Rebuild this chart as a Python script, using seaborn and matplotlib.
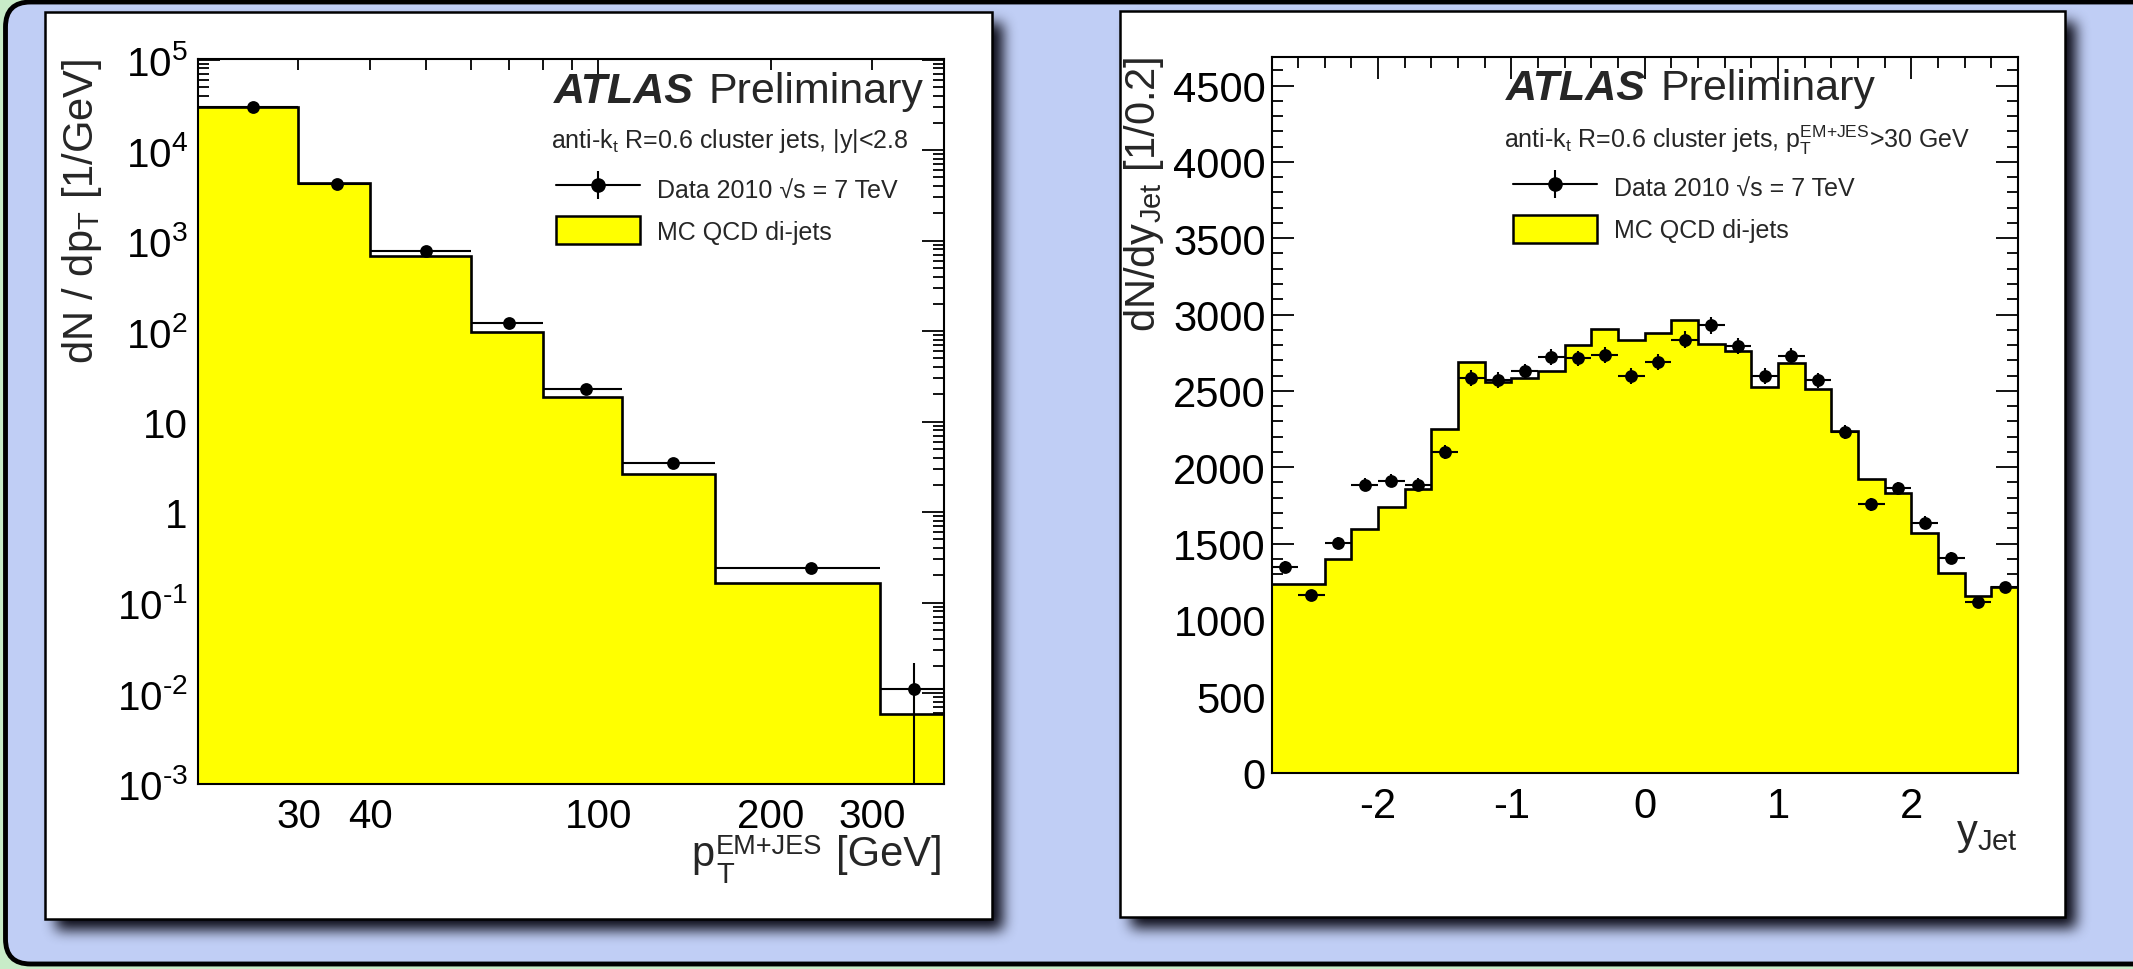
import numpy as np
import matplotlib
matplotlib.use("Agg")
import matplotlib.pyplot as plt
import matplotlib.ticker as mticker
from matplotlib.patches import Rectangle, FancyBboxPatch, Patch
from matplotlib.lines import Line2D
from matplotlib.legend_handler import HandlerTuple
import seaborn as sns

# --- left panel: jet pT spectrum ---
pt_edges = [20, 30, 40, 60, 80, 110, 160, 310, 400]
pt_mc = [3.0e4, 4.3e3, 6.7e2, 97, 18.6, 2.65, 0.166, 0.0059]
pt_data = [2.98e4, 4.24e3, 7.6e2, 123, 22.9, 3.5, 0.24, 0.0112]
pt_err = [100, 15, 4, 1.0, 0.3, 0.08, 0.02, 0.0105]
pt_ticklabels = ["$10^{\u20103}$", "$10^{\u20102}$", "$10^{\u20101}$", "1", "10",
                 "$10^{2}$", "$10^{3}$", "$10^{4}$", "$10^{5}$"]

# --- right panel: jet rapidity ---
y_edges = np.linspace(-2.8, 2.8, 29)
y_mc = [1238, 1238, 1397, 1593, 1739, 1859, 2248, 2692, 2559, 2581, 2627, 2802, 2908, 2832,
        2880, 2967, 2804, 2760, 2527, 2684, 2514, 2237, 1920, 1829, 1567, 1310, 1153, 1212]
y_data = [1347, 1161, 1506, 1886, 1912, 1886, 2101, 2583, 2570, 2627, 2719, 2712, 2734, 2597,
          2688, 2836, 2928, 2793, 2597, 2728, 2568, 2230, 1757, 1862, 1637, 1408, 1118, 1216]
y_err = [37, 34, 39, 43, 44, 43, 46, 51, 51, 51, 52, 52, 52, 51,
         52, 53, 54, 53, 51, 52, 51, 47, 42, 43, 40, 38, 33, 35]

W, H = 2133, 970
BLUE = "#c0cef5"
GREEN = "#c8ecc8"
YELLOW = "#ffff00"

sns.set_theme(style="ticks")
plt.rcParams["font.family"] = ["Liberation Sans", "DejaVu Sans"]
plt.rcParams["mathtext.default"] = "regular"
plt.rcParams["axes.unicode_minus"] = False

fig = plt.figure(figsize=(W / 100, H / 100), dpi=100, facecolor=GREEN)


def fx(x):
    return x / W


def fy(y):
    return 1 - y / H


# background: rounded frame, panel shadows, white panels
bg = fig.add_axes([0, 0, 1, 1], zorder=-1)
bg.set_xlim(0, W)
bg.set_ylim(H, 0)
bg.axis("off")
bg.add_patch(FancyBboxPatch((5.5, 3), 2400, 962, boxstyle="round,pad=0,rounding_size=25",
                            fc=BLUE, ec="black", lw=3.5, zorder=1))

panels = [(45, 13, 992, 920), (1120, 12, 2065, 918)]


def box_blur(a, r):
    k = 2 * r + 1
    p = np.pad(a, ((r + 1, r), (0, 0)), mode="edge")
    c = np.cumsum(p, axis=0)
    a = (c[k:] - c[:-k]) / k
    p = np.pad(a, ((0, 0), (r + 1, r)), mode="edge")
    c = np.cumsum(p, axis=1)
    return (c[:, k:] - c[:, :-k]) / k


shadow = np.zeros((H, W))
off = 11
for x0, y0, x1, y1 in panels:
    shadow[y0 + off:y1 + off, x0 + off:x1 + off] = 1.0
for _ in range(3):
    shadow = box_blur(shadow, 6)
rgba = np.zeros((H, W, 4))
rgba[..., 0] = 0.07
rgba[..., 1] = 0.07
rgba[..., 2] = 0.12
rgba[..., 3] = np.clip(shadow * 1.05, 0, 0.97)
bg.imshow(rgba, extent=(0, W, H, 0), interpolation="none", zorder=2, aspect="auto")
for x0, y0, x1, y1 in panels:
    bg.add_patch(Rectangle((x0, y0), x1 - x0, y1 - y0, fc="white", ec="black", lw=1.8, zorder=3))


def style_axes(ax, size):
    for s in ax.spines.values():
        s.set_color("black")
        s.set_linewidth(1.5)
    ax.tick_params(which="both", direction="in", top=True, right=True,
                   colors="black", width=1.3, labelsize=size)
    ax.tick_params(which="major", length=16)
    ax.tick_params(which="minor", length=8)
    ax.set_xlabel("")
    ax.set_ylabel("")


def draw_hist(ax, edges, mc, data, err):
    edges = np.asarray(edges, dtype=float)
    centers = 0.5 * (edges[:-1] + edges[1:])
    ax.stairs(mc, edges, fill=True, color=YELLOW, baseline=1e-4, zorder=1)
    ax.stairs(mc, edges, color="black", lw=1.9, baseline=None, zorder=2)
    ax.errorbar(centers, data, xerr=[centers - edges[:-1], edges[1:] - centers], yerr=err,
                fmt="none", ecolor="black", elinewidth=1.5, capsize=0, zorder=3)
    sns.scatterplot(x=centers, y=data, ax=ax, color="black", s=85, edgecolor="black",
                    linewidth=0, zorder=4)


def add_legend(ax, x, y, size):
    data_h = (Line2D([], [], color="black", lw=1.5, marker="o", ms=9.5),
              Line2D([], [], color="black", ls="none", marker="|", ms=20, mew=1.5))
    mc_h = Patch(fc=YELLOW, ec="black", lw=1.8)
    ax.legend([data_h, mc_h], ["Data 2010 \u221as = 7 TeV", "MC QCD di-jets"],
              handler_map={tuple: HandlerTuple(ndivide=1, pad=0)},
              loc="upper left", bbox_to_anchor=(fx(x), fy(y)), bbox_transform=fig.transFigure,
              frameon=False, fontsize=size, handlelength=3.36, handleheight=1.36,
              labelspacing=0.56, handletextpad=0.68, borderpad=0, borderaxespad=0,
              numpoints=1)


# ---------- left panel ----------
ax1 = fig.add_axes([fx(197.5), fy(784.5), 746 / W, 725 / H])
draw_hist(ax1, pt_edges, pt_mc, pt_data, pt_err)
ax1.set_xscale("log")
ax1.set_yscale("log")
ax1.set_xlim(20, 400)
ax1.set_ylim(1e-3, 1.03e5)
ax1.yaxis.set_major_locator(mticker.FixedLocator(10.0 ** np.arange(-3, 6)))
ax1.yaxis.set_major_formatter(mticker.FixedFormatter(pt_ticklabels))
ax1.yaxis.set_minor_locator(mticker.LogLocator(base=10, subs=np.arange(2, 10), numticks=30))
ax1.yaxis.set_minor_formatter(mticker.NullFormatter())
ax1.xaxis.set_major_locator(mticker.FixedLocator([100]))
ax1.xaxis.set_major_formatter(mticker.FixedFormatter(["100"]))
ax1.xaxis.set_minor_locator(mticker.FixedLocator([30, 40, 50, 60, 70, 80, 90, 200, 300]))
ax1.xaxis.set_minor_formatter(mticker.FixedFormatter(["30", "40", "", "", "", "", "", "200", "300"]))
style_axes(ax1, 29)
ax1.tick_params(axis="y", which="both", pad=7)
ax1.tick_params(axis="x", which="both", pad=10)
add_legend(ax1, 556, 175, 18)

fig.text(fx(554), fy(103), "ATLAS", fontsize=31, fontweight="bold", fontstyle="italic", va="baseline")
fig.text(fx(708), fy(103), "Preliminary", fontsize=31, va="baseline")
fig.text(fx(551), fy(148), r"anti-k$_{t}$ R=0.6 cluster jets, |y|<2.8", fontsize=18, va="baseline")
# x title built from pieces, ROOT style
fig.text(fx(943), fy(866), "[GeV]", fontsize=30, ha="right", va="baseline")
fig.text(fx(691), fy(866), "p", fontsize=30, ha="left", va="baseline")
fig.text(fx(716), fy(883), "T", fontsize=21, ha="left", va="baseline")
fig.text(fx(716), fy(854), "EM+JES", fontsize=19.5, ha="left", va="baseline")
fig.text(fx(60), fy(59), r"dN / dp$_{T}$ [1/GeV]", fontsize=30, rotation=90, ha="left", va="top")

# ---------- right panel ----------
ax2 = fig.add_axes([fx(1271.5), fy(773.5), 746.5 / W, 716 / H])
draw_hist(ax2, y_edges, y_mc, y_data, y_err)
ax2.set_xlim(-2.8, 2.8)
ax2.set_ylim(0, 4690)
ax2.xaxis.set_major_locator(mticker.MultipleLocator(1))
ax2.xaxis.set_minor_locator(mticker.MultipleLocator(0.2))
ax2.yaxis.set_major_locator(mticker.MultipleLocator(500))
ax2.yaxis.set_minor_locator(mticker.MultipleLocator(100))
style_axes(ax2, 30)
ax2.tick_params(axis="y", which="both", pad=4)
ax2.tick_params(axis="x", which="both", pad=10)
add_legend(ax2, 1512.5, 173.5, 18)

fig.text(fx(1506), fy(100), "ATLAS", fontsize=31, fontweight="bold", fontstyle="italic", va="baseline")
fig.text(fx(1660), fy(100), "Preliminary", fontsize=31, va="baseline")
fig.text(fx(1504), fy(148), r"anti-k$_{t}$ R=0.6 cluster jets, p$_{T}^{EM{+}JES}$>30 GeV",
         fontsize=18, va="baseline")
fig.text(fx(2018), fy(844), r"y$_{Jet}$", fontsize=30, ha="right", va="baseline")
fig.text(fx(1122), fy(57), r"dN/dy$_{Jet}$ [1/0.2]", fontsize=30, rotation=90, ha="left", va="top")

fig.savefig("out.png", dpi=100, facecolor=GREEN)
